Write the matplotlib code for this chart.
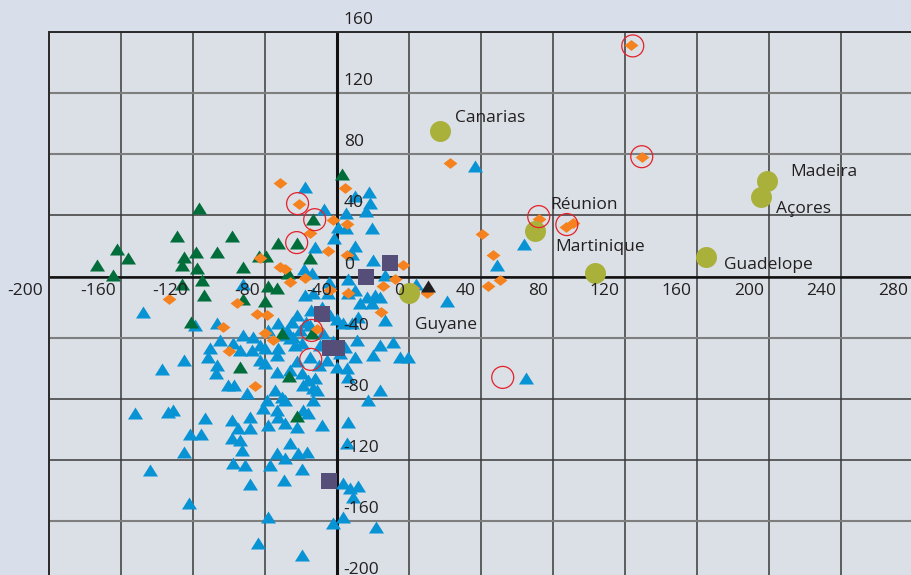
import matplotlib
matplotlib.use("Agg")
import matplotlib.pyplot as plt

plt.rcParams['font.family'] = ['Open Sans', 'DejaVu Sans']

# ---- data -------------------------------------------------------------
blue_x = [-57.8, -30, -22.2, -21.7, -47.2, -35, -23.9, -39.4, -35, -20.6,
          -41.7, -52.2, -30, -31.7, -20, -58.3, -53.9, -33.9, -44.4, -13.3,
          3.9, 36.7, 63.9, 48.9, -92.2,
          21.1, 65, -57.8, -53.3, -45, -33.9, -30, -23.3, -18.9, -27.2,
          -16.1, -20.6, -54.4, -72.8, -65, -47.8, -36.7, -31.7, -28.3, -13.3,
          -86.7, -92.2, -105, -97.8, -118.9, -106.7, -147.8, -64.4, -59.4, -63.3,
          -72.8, -80, -87.2, -110.6, -111.7, -106.7, -107.2, -125, -137.2, -55,
          -73.3, -82.8, -80, -45.6, -40, -34.4, -28.9, -30, -35.6, -20,
          -16.1, -8.9, -5, -0.6, -66.1, -59.4, -73.3, -56.1, -52.2, -58.9,
          -53.3, -51.1, -74.4, -70.6, -100.6, -97.2, -90, -78.9, -68.9, -53.3,
          -81.1, -73.3, -58.9, -33.9, -16.1, -22.8, -151.7, -133.9, -131.1, -113.3,
          -121.7, -115.6, -125, -143.9, -122.2, -98.3, -95, -88.3, -88.3, -98.3,
          -93.9, -92.8, -97.8, -91.1, -88.3, -78.3, -72.8, -68.9, -56.1, -62.2,
          -48.3, -33.9, -34.4, -66.1, -73.3, -68.9, -61.7, -56.7, -77.2, -59.4,
          -69.4, -36.7, -32.8, -28.3, -31.1, -78.3, -36.7, -42.2, -18.3, -83.9,
          -59.4, -67.8, -60.6, -55, -78.3, -43.9, -49.4, -82.8, -93.9,
          -62, -48, -40, -66, -42, -50, -62, -38, -70, -57]
blue_y = [58.8, 52.9, 55.5, 48.3, 44.4, 41.8, 43.1, 32.7, 32, 32,
          25.5, 19.6, 20.2, 15, 11.1, 5.2, 2.6, -1.3, -3.3, 1.3,
          -4.6, 72.5, 21.6, 7.8, -4.6,
          -16.3, -66.6, -12.4, -11.1, -11.1, -10.5, -9.1, -13.7, -12.4, -17,
          -13.7, -17.6, -22.2, -30.7, -30, -37.2, -30.7, -30.7, -26.8, -28.7,
          -39.8, -38.5, -41.8, -43.8, -32, -30.7, -22.9, -39.8, -43.8, -45.1,
          -47, -47, -48.3, -47, -52.9, -58.1, -63.4, -54.9, -60.7, -52.9,
          -51.6, -54.9, -56.8, -54.9, -59.4, -60.1, -41.8, -52.9, -46.4, -51.6,
          -45.1, -43.1, -52.9, -52.9, -61.4, -63.4, -62.7, -67.9, -66.6, -71.2,
          -73.2, -74.5, -74.5, -79, -71.2, -71.2, -76.4, -81, -81, -81,
          -86.2, -87.5, -87.5, -66, -74.5, -81, -89.5, -88.8, -87.5, -92.7,
          -103.2, -103.2, -115, -126.7, -148.3, -94.1, -99.3, -92.1, -99.3, -105.8,
          -107.1, -113.7, -122.1, -123.4, -135.9, -97.3, -92.1, -96, -89.5, -98.6,
          -97.3, -95.4, -109.1, -109.1, -115.6, -118.9, -115.6, -115, -123.4, -126.1,
          -133.2, -135.2, -138.5, -137.2, -144.3, -157.4, -157.4, -161.3, -163.9, -174.4,
          -182.2, -35.3, -35.3, -32, -35.3, -25.5, -45.1, -45.1, -48.3,
          -25, -20, -28, -40, -42, -58, -55, -50, -38, -30]

green_x = [-116.7, -128.9, -98.3, -161.7, -155.6, -172.8, -164.4, -118.3, -106.7, -125,
           -126.1, -117.8, -115, -92.2, -83.3, -79.4, -72.8, -62.2, -53.3, -37.2,
           -55, -67.2, -125.6, -113.9, -92.2, -80, -78.3, -73.3, -121.1, -70.6,
           -53.9, -93.9, -66.7, -62.2]
green_y = [45.1, 26.8, 26.8, 18.3, 11.8, 7.8, 1.3, 16.3, 16.3, 13.1,
           7.8, 5.9, -2, 6.5, 13.7, 13.7, 22.2, 22.2, 37.9, 67.3,
           12.4, 2, -4.6, -11.8, -14.4, -15.7, -6.5, -7.2, -30, -37.2,
           -37.2, -59.4, -65.3, -91.4]

orange_x = [123.3, 129.4, 22.8, 72.2, 87.2, 91.1, 40.6, 46.7, 50.6, 43.9,
            10, -71.7, -61.1, -35.6, -42.2, -34.4, -55, -45, -34.4, -82.8,
            -71.7, -68.9, -57.8, -66.1, -3.3, -7.8, -14.4, -33.9, -43.9, -133.3,
            -95.6, -103.3, -84.4, -78.9, -80, -75.6, -100, -85.6, -51.1, -15.6,
            2.2]
orange_y = [151.5, 78.4, 74.5, 37.9, 32.7, 35.3, 28.1, 14.4, -2, -5.9,
            -11.1, 61.4, 47.7, 58.1, 37.2, 34.6, 28.7, 17, 14.4, 11.8,
            6.5, 5.2, -0.7, -3.9, 7.8, -1.3, -5.9, -11.1, -8.5, -15,
            -17.6, -32.7, -24.2, -25.5, -37.2, -41.8, -49, -71.8, -34.6, -22.9,
            -7.2]

square_x = [-23.9, -10.6, -48.3, -43.9, -40, -44.4]
square_y = [0, 9.1, -24.2, -47, -47, -133.9]

black_x = [10.6]
black_y = [-6.5]

region_names = ["Canarias", "Madeira", "Açores", "Guadelope", "Réunion", "Martinique", "Guyane"]
region_x = [17.2, 198.9, 195.6, 165, 70, 103.3, 0]
region_y = [95.4, 62.7, 52.3, 13.1, 30, 2, -11.1]

ring_x = [124.4, 129.4, 72.2, 87.8, 52.2, -61.7, -52.2, -62.2, -53.9, -54.4]
ring_y = [150.9, 78.4, 39.2, 34, -66, 47.7, 37.2, 22.2, -35.3, -54.2]

x_ticks = list(range(-200, 281, 40))
y_ticks = list(range(-200, 161, 40))

# ---- styling ----------------------------------------------------------
BG_OUT = "#d9dfea"
BG_IN = "#dae0e6"
BLUE = "#0893d5"
GREEN = "#006d3a"
ORANGE = "#f5821f"
PURPLE = "#544e78"
OLIVE = "#a9b13a"
RED = "#e6202a"
INK = "#231f20"

tri = [(-1, -0.8), (1, -0.8), (0, 0.8)]
dia = [(-1, 0), (0, 0.78), (1, 0), (0, -0.78)]

fig = plt.figure(figsize=(9.11, 5.75), dpi=100, facecolor=BG_OUT)
x0 = 48.5 / 911
top = 1 - 32 / 575
ax = fig.add_axes([x0, 0, 1 - x0, top])
ax.set_facecolor(BG_IN)
ax.set_xlim(-200, 278.9)
ax.set_ylim(-195.3, 160)

# grid
for xv in x_ticks:
    ax.axvline(xv, color="#3a3a3a", lw=1.1, zorder=1)
gray_rows = {120, 80, -40, -160}
for yv in y_ticks:
    if yv in gray_rows:
        ax.axhline(yv, color="#7e7e7e", lw=1.5, zorder=1)
    else:
        ax.axhline(yv, color="#3a3a3a", lw=1.1, zorder=1)

# axis lines
ax.axhline(0, color="#111111", lw=1.8, zorder=2)
ax.axvline(-40, color="#111111", lw=2.2, zorder=2)

for s in ["bottom", "right"]:
    ax.spines[s].set_visible(False)
for s in ["top", "left"]:
    ax.spines[s].set_color("#2a2a2a")
    ax.spines[s].set_linewidth(1.4)
ax.set_xticks([])
ax.set_yticks([])

# markers
ax.scatter(blue_x, blue_y, marker=tri, s=117, color=BLUE, linewidths=0, zorder=3)
ax.scatter(green_x, green_y, marker=tri, s=117, color=GREEN, linewidths=0, zorder=4)
ax.scatter(orange_x, orange_y, marker=dia, s=100, color=ORANGE, linewidths=0, zorder=5)
ax.scatter(square_x, square_y, marker="s", s=149, color=PURPLE, linewidths=0, zorder=6)
ax.scatter(black_x, black_y, marker=tri, s=117, color=INK, linewidths=0, zorder=6)
ax.scatter(region_x, region_y, marker="o", s=228, color=OLIVE, linewidths=0, zorder=7)
ax.scatter(ring_x, ring_y, marker="o", s=250, facecolors="none", edgecolors=RED,
           linewidths=0.9, zorder=8)

# region labels
label_offsets = {
    "Canarias": (15, 13),
    "Madeira": (23, 9),
    "Açores": (15, -12),
    "Guadelope": (18, -8),
    "Réunion": (15, 26),
    "Martinique": (-39, 26),
    "Guyane": (6, -32),
}
for name, xv, yv in zip(region_names, region_x, region_y):
    ax.annotate(name, (xv, yv), xytext=label_offsets[name], textcoords="offset pixels",
                ha="left", va="center", fontsize=12.5, color=INK, zorder=9)

# tick labels: x values sit left of their grid line, y values above theirs
for xv in x_ticks:
    ax.annotate(str(xv), (xv, 0), xytext=(-5, -14), textcoords="offset pixels",
                ha="right", va="center", fontsize=12.5, color=INK, zorder=10,
                annotation_clip=False)
for yv in y_ticks:
    ax.annotate(str(yv), (-40, yv), xytext=(7, 12), textcoords="offset pixels",
                ha="left", va="center", fontsize=12.5, color=INK, zorder=10,
                annotation_clip=False)

fig.savefig("out.png", dpi=100, facecolor=BG_OUT)
